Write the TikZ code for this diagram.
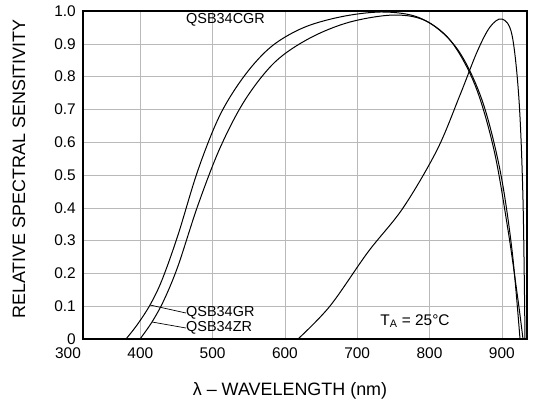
\documentclass[tikz,border=0pt]{standalone}
\usepackage{fontspec}
\setmainfont{Liberation Sans}
\begin{document}
\begin{tikzpicture}[x=1bp,y=-1bp,
  gridline/.style={gray!55,line width=0.5bp},
  plotframe/.style={black,line width=1.1bp},
  specurve/.style={black,line width=1bp},
  leader/.style={black,line width=0.7bp},
  ticklab/.style={font=\fontsize{15.5}{17}\selectfont,inner sep=0pt},
  curvelab/.style={font=\fontsize{14.5}{16}\selectfont,inner sep=0pt,anchor=west},
  axistitle/.style={font=\fontsize{18}{20}\selectfont,inner sep=0pt}]
\useasboundingbox (0,0) rectangle (545,408);
% grid
\foreach \k in {1,...,9} \draw[gridline] (83,{339-32.8*\k}) -- (527,{339-32.8*\k});
\foreach \xx in {140.3,212.6,284.9,357.2,429.5,501.8} \draw[gridline] (\xx,11) -- (\xx,339);
% frame
\draw[plotframe] (83,11) rectangle (527,339);
% y tick labels
\foreach \k/\t in {0/0,1/0.1,2/0.2,3/0.3,4/0.4,5/0.5,6/0.6,7/0.7,8/0.8,9/0.9,10/1.0}
  \node[ticklab,anchor=east] (y\k) at (76,{339-32.8*\k}) {\t};
% x tick labels
\foreach \k/\t in {0/300,1/400,2/500,3/600,4/700,5/800,6/900}
  \node[ticklab] (x\k) at ({68+72.3*\k},353) {\t};
% curves
\draw[specurve] plot[smooth,tension=0.55] coordinates {(126,339) (137,325) (150,305) (162,280) (178,235) (198,170) (220,115) (245,75) (272,46) (305,27) (345,16) (385,12) (420,18) (450,40) (475,85) (494,150) (508,230) (518,300) (523,339)};
\draw[specurve] plot[smooth,tension=0.55] coordinates {(140,339) (152,322) (164,300) (178,266) (198,205) (220,148) (245,100) (275,62) (310,38) (350,22) (395,15) (428,22) (458,50) (482,100) (500,170) (512,250) (520,339)};
\draw[specurve] plot[smooth,tension=0.55] coordinates {(298,339) (330,306) (368,252) (403,208) (437,150) (460,95) (477,52) (490,27) (502,19) (512,35) (519,100) (523,200) (525,339)};
\coordinate (grpt) at (150,305);
\coordinate (zrpt) at (152,322);
% labels
\node[curvelab] (cgr) at (186,20) {QSB34CGR};
\node[curvelab] (gr) at (186,313) {QSB34GR};
\node[curvelab] (zr) at (186,328) {QSB34ZR};
\draw[leader] (gr.west) -- (grpt);
\draw[leader] (zr.west) -- (zrpt);
\node[ticklab] (ta) at (415,321) {T\textsubscript{A} = 25°C};
% axis titles
\node[axistitle,rotate=90] (ytitle) at (19,169) {RELATIVE SPECTRAL SENSITIVITY};
\node[axistitle] (xtitle) at (290,391) {λ – WAVELENGTH (nm)};
\end{tikzpicture}
\end{document}
